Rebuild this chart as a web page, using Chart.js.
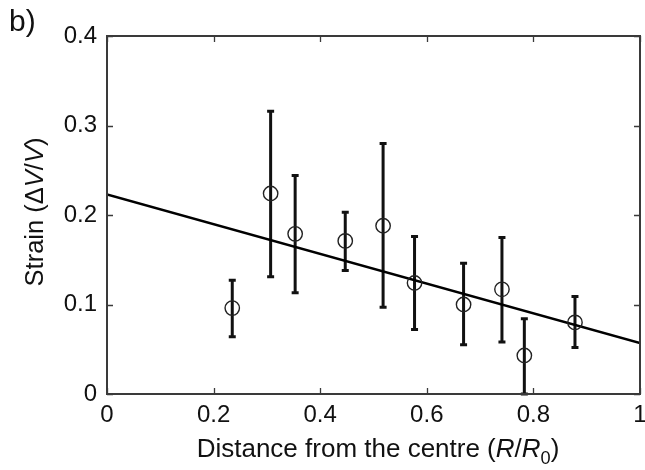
<!DOCTYPE html>
<html>
<head>
<meta charset="utf-8">
<script src="https://cdn.jsdelivr.net/npm/chart.js@4.4.1/dist/chart.umd.min.js"></script>
<style>
  html, body { margin: 0; padding: 0; background: #fff; }
  #wrap { width: 645px; height: 470px; position: relative; }
</style>
</head>
<body>
<div id="wrap"><canvas id="c" width="645" height="470"></canvas></div>
<script>
// ---- data ----
const distance = [0.235, 0.307, 0.353, 0.447, 0.518, 0.577, 0.669, 0.741, 0.783, 0.878];
const strain   = [0.096, 0.224, 0.179, 0.171, 0.188, 0.124, 0.100, 0.117, 0.043, 0.080];
const errLow   = [0.064, 0.131, 0.113, 0.138, 0.097, 0.072, 0.055, 0.058, 0.000, 0.052];
const errHigh  = [0.127, 0.316, 0.244, 0.203, 0.280, 0.176, 0.146, 0.175, 0.084, 0.109];
const fitX = [0, 1];
const fitY = [0.223, 0.057];
const xTicks = [0, 0.2, 0.4, 0.6, 0.8, 1];
const yTicks = [0, 0.1, 0.2, 0.3, 0.4];
const panelLabel = 'b)';

const FONT = '"Liberation Sans", Arial, sans-serif';
const TXT = '#111';

function drawRich(ctx, parts, x, y, size) {
  let widths = parts.map(p => {
    const s = p.sub ? size * 0.7 : size;
    ctx.font = (p.italic ? 'italic ' : '') + s + 'px ' + FONT;
    return ctx.measureText(p.t).width;
  });
  const total = widths.reduce((a, b) => a + b, 0);
  let cx = x - total / 2;
  parts.forEach((p, i) => {
    const s = p.sub ? size * 0.7 : size;
    ctx.font = (p.italic ? 'italic ' : '') + s + 'px ' + FONT;
    ctx.fillText(p.t, cx, y + (p.sub ? size * 0.28 : 0));
    cx += widths[i];
  });
}

const deco = {
  id: 'deco',
  beforeDatasetsDraw(chart) {
    const ctx = chart.ctx, xs = chart.scales.x, ys = chart.scales.y;
    ctx.save();
    ctx.strokeStyle = '#111';
    ctx.lineWidth = 3;
    for (let i = 0; i < distance.length; i++) {
      const px = xs.getPixelForValue(distance[i]);
      const pl = ys.getPixelForValue(errLow[i]);
      const ph = ys.getPixelForValue(errHigh[i]);
      ctx.beginPath();
      ctx.moveTo(px, pl); ctx.lineTo(px, ph);
      ctx.moveTo(px - 3.5, pl); ctx.lineTo(px + 3.5, pl);
      ctx.moveTo(px - 3.5, ph); ctx.lineTo(px + 3.5, ph);
      ctx.stroke();
    }
    ctx.restore();
  },
  afterDraw(chart) {
    const ctx = chart.ctx, a = chart.chartArea, xs = chart.scales.x, ys = chart.scales.y;
    ctx.save();
    ctx.strokeStyle = '#3a3a3a';
    ctx.lineWidth = 2;
    ctx.strokeRect(a.left, a.top, a.right - a.left, a.bottom - a.top);
    ctx.lineWidth = 1.3;
    ctx.beginPath();
    xTicks.forEach(v => {
      const px = Math.round(xs.getPixelForValue(v)) + 0.5;
      ctx.moveTo(px, a.bottom); ctx.lineTo(px, a.bottom - 6);
      ctx.moveTo(px, a.top); ctx.lineTo(px, a.top + 6);
    });
    yTicks.forEach(v => {
      const py = Math.round(ys.getPixelForValue(v)) + 0.5;
      ctx.moveTo(a.left, py); ctx.lineTo(a.left + 6, py);
      ctx.moveTo(a.right, py); ctx.lineTo(a.right - 6, py);
    });
    ctx.stroke();

    ctx.fillStyle = TXT;
    // x tick labels, placed by the x scale
    ctx.font = '24px ' + FONT;
    ctx.textAlign = 'center';
    ctx.textBaseline = 'alphabetic';
    xTicks.forEach(v => {
      ctx.fillText(String(v), xs.getPixelForValue(v), a.bottom + 28);
    });

    ctx.textAlign = 'left';
    // x title
    drawRich(ctx, [
      {t: 'Distance from the centre ('},
      {t: 'R', italic: true},
      {t: '/'},
      {t: 'R', italic: true},
      {t: '0', sub: true},
      {t: ')'}
    ], 378, 457, 26);
    // y title
    ctx.save();
    ctx.translate(43, 212);
    ctx.rotate(-Math.PI / 2);
    drawRich(ctx, [
      {t: 'Strain (\u0394'},
      {t: 'V', italic: true},
      {t: '/'},
      {t: 'V', italic: true},
      {t: ')'}
    ], 0, 0, 25.5);
    ctx.restore();
    // panel label
    ctx.font = '30px ' + FONT;
    ctx.fillText(panelLabel, 9, 31);
    ctx.restore();
  }
};

new Chart(document.getElementById('c'), {
  type: 'scatter',
  data: {
    datasets: [
      {
        label: 'fit',
        type: 'line',
        data: fitX.map((x, i) => ({x, y: fitY[i]})),
        borderColor: '#000',
        borderWidth: 2.5,
        pointRadius: 0,
        fill: false,
        order: 2
      },
      {
        label: 'strain',
        data: distance.map((x, i) => ({x, y: strain[i]})),
        pointStyle: 'circle',
        pointRadius: 7.2,
        pointBorderWidth: 1.4,
        pointBorderColor: '#222',
        pointBackgroundColor: 'rgba(0,0,0,0)',
        order: 1
      }
    ]
  },
  options: {
    responsive: false,
    animation: false,
    events: [],
    layout: { autoPadding: false, padding: { left: 0, right: 5, top: 36, bottom: 0 } },
    plugins: { legend: { display: false }, tooltip: { enabled: false } },
    scales: {
      x: {
        type: 'linear', min: 0, max: 1,
        grid: { display: false, drawTicks: false },
        border: { display: false },
        afterBuildTicks: s => { s.ticks = xTicks.map(v => ({value: v})); },
        afterFit: s => { s.height = 76; },
        ticks: { display: false }
      },
      y: {
        type: 'linear', min: 0, max: 0.4,
        grid: { display: false, drawTicks: false },
        border: { display: false },
        afterBuildTicks: s => { s.ticks = yTicks.map(v => ({value: v})); },
        afterFit: s => { s.width = 107; s.paddingTop = 0; s.paddingBottom = 0; },
        ticks: { color: TXT, font: { family: FONT, size: 24 }, padding: 10,
                 autoSkip: false, callback: v => String(v) }
      }
    }
  },
  plugins: [deco]
});
</script>
</body>
</html>
